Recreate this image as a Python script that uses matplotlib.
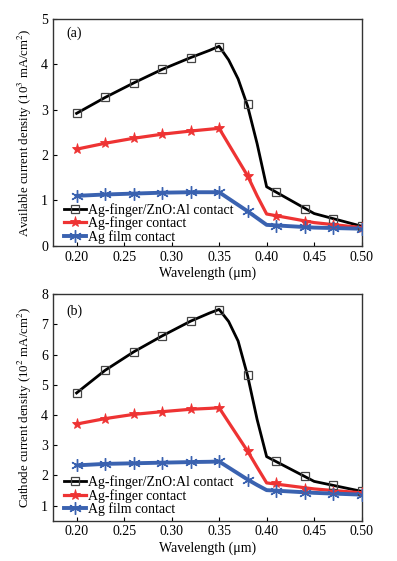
import matplotlib.pyplot as plt

# Data
# marker positions (every 0.03 um)
wl_mark = [0.20, 0.23, 0.26, 0.29, 0.32, 0.35, 0.38, 0.41, 0.44, 0.47, 0.50]
# line points (lines are drawn from a finer set of points than the markers)
wl_line = [0.20, 0.23, 0.26, 0.29, 0.32, 0.34, 0.35, 0.36, 0.37, 0.38, 0.39, 0.40, 0.45, 0.50]

# (a) available current density, 10^3 mA/cm^2
a_zno_mark = [2.92, 3.27, 3.59, 3.89, 4.15, 4.39, 3.13, 1.18, 0.82, 0.60, 0.44]
a_zno_line = [2.92, 3.27, 3.59, 3.89, 4.15, 4.31, 4.40, 4.10, 3.68, 3.08, 2.25, 1.30, 0.71, 0.43]
a_fin_mark = [2.13, 2.26, 2.37, 2.46, 2.53, 2.59, 1.54, 0.65, 0.53, 0.45, 0.40]
a_fin_line = [2.13, 2.26, 2.37, 2.46, 2.53, 2.57, 2.59, 2.24, 1.89, 1.54, 1.10, 0.70, 0.51, 0.40]
a_film_mark = [1.10, 1.13, 1.15, 1.17, 1.18, 1.18, 0.76, 0.44, 0.41, 0.39, 0.375]
a_film_line = [1.10, 1.13, 1.15, 1.17, 1.18, 1.18, 1.18, 1.04, 0.90, 0.76, 0.61, 0.46, 0.40, 0.375]

# (b) cathode current density, 10^2 mA/cm^2
b_zno_mark = [4.73, 5.48, 6.09, 6.62, 7.11, 7.49, 5.33, 2.47, 1.97, 1.67, 1.47]
b_zno_line = [4.73, 5.48, 6.09, 6.62, 7.11, 7.38, 7.50, 7.10, 6.45, 5.30, 3.85, 2.62, 1.80, 1.47]
b_fin_mark = [3.70, 3.88, 4.02, 4.11, 4.19, 4.24, 2.80, 1.73, 1.56, 1.46, 1.42]
b_fin_line = [3.70, 3.88, 4.02, 4.11, 4.19, 4.22, 4.24, 3.76, 3.28, 2.80, 2.27, 1.75, 1.55, 1.42]
b_film_mark = [2.33, 2.38, 2.40, 2.42, 2.44, 2.46, 1.86, 1.49, 1.42, 1.39, 1.36]
b_film_line = [2.33, 2.38, 2.40, 2.42, 2.44, 2.45, 2.46, 2.26, 2.06, 1.86, 1.68, 1.51, 1.42, 1.36]

labels = ['Ag-finger/ZnO:Al contact', 'Ag-finger contact', 'Ag film contact']
xticks = [0.20, 0.25, 0.30, 0.35, 0.40, 0.45, 0.50]

plt.rcParams['font.family'] = ['Liberation Serif', 'DejaVu Serif']
plt.rcParams['mathtext.fontset'] = 'stix'

black = '#000000'
red = '#ee3333'
blue = '#3a62b0'
styles = [
    dict(color=black, lw=2.0, marker='s', ms=6, mfc='none', mec='#444444', mew=0.9),
    dict(color=red, lw=2.3, marker='*', ms=8, mfc=red, mec=red, mew=0.6),
    dict(color=blue, lw=2.8, marker=(6, 2, 0), ms=9, mfc=blue, mec=blue, mew=1.0),
]

fig = plt.figure(figsize=(3.97, 5.61), dpi=100)
ax_a = fig.add_axes([0.133, 0.562, 0.778, 0.404])
ax_b = fig.add_axes([0.133, 0.072, 0.778, 0.4034])


def panel(ax, lines, marks, ylim, yticks, ylabel, tag, tag_y, leg_y):
    for (yl, ym), st, lab in zip(zip(lines, marks), styles, labels):
        ax.plot(wl_line, yl, color=st['color'], lw=st['lw'], zorder=2)
        ax.plot(wl_mark, ym, ls='none', marker=st['marker'], ms=st['ms'],
                mfc=st['mfc'], mec=st['mec'], mew=st['mew'], zorder=3)
        # legend proxy
        ax.plot([], [], color=st['color'], lw=st['lw'], marker=st['marker'], ms=st['ms'],
                mfc=st['mfc'], mec=st['mec'], mew=st['mew'], label=lab)
    ax.set_xlim(0.175, 0.50)
    ax.set_ylim(*ylim)
    ax.set_xticks(xticks)
    ax.set_xticklabels(['%.2f' % t for t in xticks])
    ax.set_yticks(yticks)
    ax.tick_params(direction='in', length=3, width=0.8, labelsize=10, top=False, right=False)
    for s in ax.spines.values():
        s.set_color('#333333')
        s.set_linewidth(1.0)
    ax.set_xlabel('Wavelength (μm)', fontsize=10, labelpad=2)
    ax.set_ylabel(ylabel, fontsize=9.3, labelpad=5)
    ax.text(0.045, tag_y, tag, transform=ax.transAxes, fontsize=10, va='top', ha='left')
    ax.legend(loc='lower left', bbox_to_anchor=(0.0, leg_y), frameon=False, fontsize=10,
              labelspacing=-0.02, handlelength=1.6, handletextpad=0.1, borderpad=0.3)


panel(ax_a, [a_zno_line, a_fin_line, a_film_line], [a_zno_mark, a_fin_mark, a_film_mark],
      (0, 5), [0, 1, 2, 3, 4, 5], 'Available current density (10$^3$ mA/cm$^2$)', '(a)',
      0.965, -0.04)
panel(ax_b, [b_zno_line, b_fin_line, b_film_line], [b_zno_mark, b_fin_mark, b_film_mark],
      (0.5, 8), [1, 2, 3, 4, 5, 6, 7, 8], 'Cathode current density (10$^2$ mA/cm$^2$)', '(b)',
      0.955, -0.03)

fig.savefig('out.png', dpi=100)
